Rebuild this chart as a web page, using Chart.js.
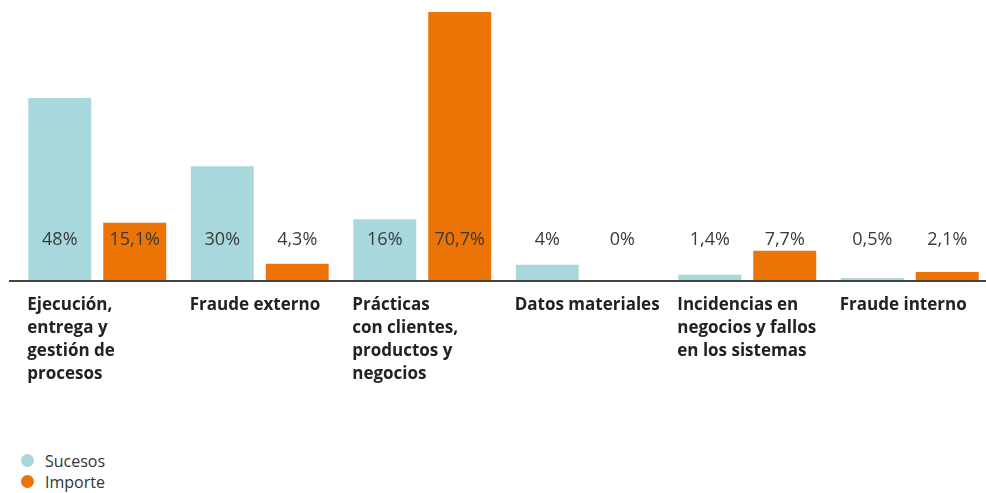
<!DOCTYPE html>
<html>
<head>
<meta charset="utf-8">
<script src="https://cdn.jsdelivr.net/npm/chart.js@4"></script>
<style>
    html, body { margin: 0; padding: 0; background: #fff; overflow: hidden; }
    #wrap { position: relative; width: 986px; height: 493px; overflow: hidden; }
    #legend { position: absolute; left: 21px; top: 450px; font-family: 'Open Sans', sans-serif; font-size: 16px; color: #333; }
    #legend div { display: flex; align-items: center; height: 21px; }
    #legend span.dot { width: 13px; height: 13px; border-radius: 50%; margin-right: 11px; display: inline-block; }
</style>
</head>
<body>
<div id="wrap">
    <canvas id="chart" width="1000" height="420"></canvas>
    <div id="legend"></div>
</div>
<script>
// Categories (one array of lines per label)
const categories = [
    ['Ejecución,', 'entrega y', 'gestión de', 'procesos'],
    ['Fraude externo'],
    ['Prácticas', 'con clientes,', 'productos y', 'negocios'],
    ['Datos materiales'],
    ['Incidencias en', 'negocios y fallos', 'en los sistemas'],
    ['Fraude interno']
];

const sucesos = [48, 30, 16, 4, 1.4, 0.5];
const importe = [15.1, 4.3, 70.7, 0, 7.7, 2.1];

const seriesNames = ['Sucesos', 'Importe'];
const seriesColors = ['#a8d8dc', '#ec7404'];

/**
 * Format value as Spanish percentage
 */
function formatPct(v) {
    return String(v).replace('.', ',') + '%';
}

// Value labels drawn at a fixed height above the axis
const valueLabels = {
    id: 'valueLabels',
    afterDatasetsDraw(chart) {
        const ctx = chart.ctx;
        const y = chart.chartArea.bottom - 40;
        ctx.save();
        ctx.font = '400 18px "Open Sans", sans-serif';
        ctx.fillStyle = '#3a3a3a';
        ctx.textAlign = 'center';
        ctx.textBaseline = 'middle';
        chart.data.datasets.forEach((ds, di) => {
            chart.getDatasetMeta(di).data.forEach((bar, i) => {
                ctx.fillText(formatPct(ds.data[i]), bar.x, y);
            });
        });
        ctx.restore();
    }
};

// Baseline running past the chart area on the left
const baseline = {
    id: 'baseline',
    afterDatasetsDraw(chart) {
        const ctx = chart.ctx;
        const y = chart.chartArea.bottom + 1;
        ctx.save();
        ctx.strokeStyle = '#444';
        ctx.lineWidth = 2;
        ctx.beginPath();
        ctx.moveTo(chart.chartArea.left - 7, y);
        ctx.lineTo(chart.width, y);
        ctx.stroke();
        ctx.restore();
    }
};

const chart = new Chart(document.getElementById('chart'), {
    type: 'bar',
    data: {
        labels: categories,
        datasets: [
            { label: seriesNames[0], data: sucesos, backgroundColor: seriesColors[0] },
            { label: seriesNames[1], data: importe, backgroundColor: seriesColors[1] }
        ]
    },
    options: {
        responsive: false,
        animation: false,
        layout: { padding: { left: 16, right: 9, top: 12, bottom: 0 } },
        datasets: {
            bar: { categoryPercentage: 0.9225, barPercentage: 0.84 }
        },
        plugins: {
            legend: { display: false },
            tooltip: { enabled: false }
        },
        scales: {
            x: {
                grid: { display: false, drawTicks: false },
                border: { display: false },
                afterFit: (scale) => {
                    scale.height = 140;
                    // labels are left-aligned, don't let them shrink the plot
                    scale.paddingLeft = 0;
                    scale.paddingRight = 0;
                },
                ticks: {
                    autoSkip: false,
                    maxRotation: 0,
                    minRotation: 0,
                    align: 'start',
                    labelOffset: -70,
                    padding: 14,
                    color: '#222',
                    font: { family: "'Open Sans', sans-serif", size: 17, weight: 'bold', lineHeight: 1.353 }
                }
            },
            y: {
                display: false,
                min: 0,
                max: 70.7
            }
        }
    },
    plugins: [valueLabels, baseline]
});

// HTML legend, stacked vertically
const legend = document.getElementById('legend');
chart.data.datasets.forEach(ds => {
    const row = document.createElement('div');
    row.innerHTML = '<span class="dot" style="background:' + ds.backgroundColor + '"></span>' + ds.label;
    legend.appendChild(row);
});
</script>
</body>
</html>
